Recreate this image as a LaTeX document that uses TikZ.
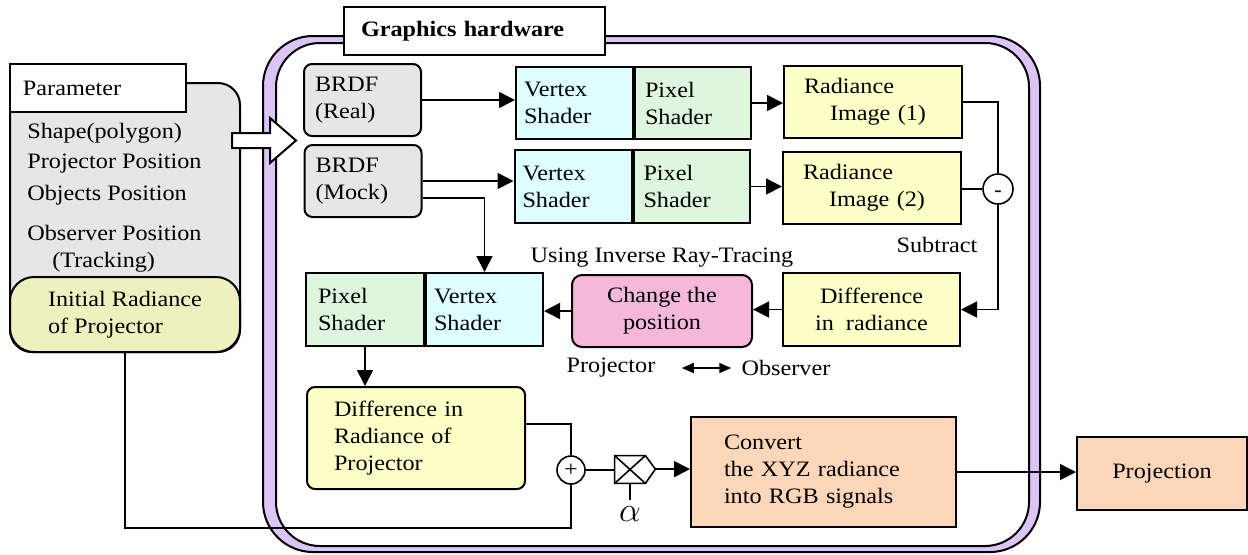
\documentclass[tikz,border=0pt]{standalone}
\usepackage{fontspec}
\setmainfont{Liberation Serif}[FakeStretch=1.1]
\usetikzlibrary{positioning,arrows.meta}

\definecolor{hwpurple}{RGB}{220,196,246}
\definecolor{brdfgray}{RGB}{230,230,230}
\definecolor{vscyan}{RGB}{222,255,255}
\definecolor{psgreen}{RGB}{222,246,222}
\definecolor{radyellow}{RGB}{255,255,200}
\definecolor{inityellow}{RGB}{240,240,190}
\definecolor{chgpink}{RGB}{245,184,218}
\definecolor{convorange}{RGB}{251,214,184}

\begin{document}
\begin{tikzpicture}[x=0.5pt, y=-0.5pt,
  every node/.style={align=center, font=\fontsize{11}{13.5}\selectfont},
  thebox/.style={draw, line width=1pt, inner sep=0pt},
  roundbox/.style={thebox, rounded corners=4pt},
  lefttext/.style 2 args={text width=#1, inner xsep=#2, align=left},
  junction/.style={draw, circle, line width=0.8pt, inner sep=0pt},
  label/.style={inner sep=0pt},
  wire/.style={line width=0.8pt},
  arr/.style={wire, -{Triangle[length=8pt,width=8pt]}},
  dblarr/.style={wire, {Triangle[length=6pt,width=5pt]}-{Triangle[length=6pt,width=5pt]}}]

\useasboundingbox (0,0) rectangle (1248,554);

% parameter block
\node (param) [thebox, rounded corners=11pt, fill=brdfgray, minimum width=115pt, minimum height=134.5pt] at (125,217.5) {};
\node (paramtitle) [thebox, fill=white, lefttext={75pt}{6.5pt}, minimum height=24pt] at (98,88) {Parameter};
\node (shape) [label, anchor=west] at (27,133) {Shape(polygon)};
\node (projpos) [label, anchor=west] at (27,164) {Projector Position};
\node (objpos) [label, anchor=west] at (27,195) {Objects Position};
\node (obspos) [label, anchor=west] at (27,233) {Observer Position};
\node (tracking) [label, anchor=west] at (52,262) {(Tracking)};
\node (initrad) [thebox, rounded corners=12pt, fill=inityellow, align=left, minimum width=115pt, minimum height=37.5pt] at (125,314.5) {Initial Radiance\\of Projector};

% graphics hardware frame
\draw[line width=1pt, fill=hwpurple, rounded corners=25pt] (263,36) rectangle (1040,552);
\draw[line width=1pt, fill=white, rounded corners=22pt] (276,43) rectangle (1029,546);
\node (hwtitle) [thebox, fill=white, lefttext={113.5pt}{8.5pt}, minimum height=24pt] at (474.5,31) {\textbf{Graphics hardware}};

% first and second pass
\node (brdfreal) [roundbox, fill=brdfgray, lefttext={47.5pt}{5.5pt}, minimum height=36pt] at (362.5,100) {BRDF\\(Real)};
\node (brdfmock) [roundbox, fill=brdfgray, lefttext={47.5pt}{5.5pt}, minimum height=36pt] at (363,181) {BRDF\\(Mock)};
\node (vs1) [thebox, fill=vscyan, lefttext={50.5pt}{4pt}, minimum height=36pt] at (574.5,103) {Vertex\\Shader};
\node (ps1) [thebox, fill=psgreen, lefttext={48pt}{5pt}, minimum height=36pt, right=0pt of vs1] {Pixel\\Shader};
\node (vs2) [thebox, fill=vscyan, lefttext={50.5pt}{4pt}, minimum height=36.5pt] at (573,186.5) {Vertex\\Shader};
\node (ps2) [thebox, fill=psgreen, lefttext={48pt}{5pt}, minimum height=36.5pt, right=0pt of vs2] {Pixel\\Shader};
\node (rad1) [thebox, fill=radyellow, lefttext={69pt}{10pt}, minimum height=36pt] at (873,102) {Radiance\\\hspace*{13pt}Image (1)};
\node (rad2) [thebox, fill=radyellow, lefttext={69pt}{10pt}, minimum height=36pt] at (872,187.5) {Radiance\\\hspace*{13pt}Image (2)};
\node (sub) [junction, minimum size=15pt, fill=white] at (998,189) {};
\node (minus) [label, font=\bfseries] at (998,194) {-};
\node (subtract) [label] at (937,245) {Subtract};

% inverse pass
\node (diffrad) [thebox, fill=radyellow, minimum width=88.5pt, minimum height=36.5pt] at (871.5,309.5) {Difference\\in~ radiance};
\node (change) [roundbox, rounded corners=5pt, fill=chgpink, minimum width=90pt, minimum height=36pt] at (662,311) {Change the\\position};
\node (inverse) [label] at (662,258) {Using Inverse Ray-Tracing};
\node (ps3) [thebox, fill=psgreen, lefttext={47pt}{6pt}, minimum height=36.5pt] at (365,309.5) {Pixel\\Shader};
\node (vs3) [thebox, fill=vscyan, lefttext={50.5pt}{4pt}, minimum height=36.5pt, right=0pt of ps3] {Vertex\\Shader};
\node (projlbl) [label] at (611,368) {Projector};
\node (obslbl) [label] at (786,368) {Observer};

% output
\node (diffproj) [roundbox, fill=radyellow, lefttext={82pt}{13.5pt}, minimum height=51pt] at (416,438) {Difference in\\Radiance of\\Projector};
\node (plus) [junction, minimum size=14pt, fill=white] at (571,470) {+};
\node (mult) [inner sep=0pt, minimum width=15pt, minimum height=13.5pt] at (630,469.5) {};
\node (alpha) [anchor=north, inner sep=3pt] at (630,500) {\LARGE$\alpha$};
\node (convert) [thebox, fill=convorange, lefttext={99.5pt}{16.5pt}, minimum height=55pt] at (823.5,472) {Convert\\the XYZ radiance\\into RGB signals};
\node (proj) [thebox, fill=convorange, minimum width=85pt, minimum height=36.5pt] at (1162,473.5) {Projection};
\coordinate (loop) at (571,528);

\draw[wire, fill=white] (mult.north west) -- (mult.north east) -- ++(10,13.5) coordinate (multtip) -- (mult.south east) -- (mult.south west) -- cycle;
\draw[wire] (mult.north west) -- (mult.south east) (mult.south west) -- (mult.north east);

% connections
\draw[arr] (brdfreal.east) -- (brdfreal.east -| vs1.west);
\draw[arr] (brdfmock.east) -- (brdfmock.east -| vs2.west);
\draw[arr] ([yshift=-8.5pt]brdfmock.east) -| (vs3.north);
\draw[arr] (ps1.east) -- (ps1.east -| rad1.west);
\draw[arr] (ps2.east) -- (ps2.east -| rad2.west);
\draw[wire] (rad1.east) -| (sub.north);
\draw[wire] (sub.west) -- (sub.west -| rad2.east);
\draw[arr] (sub.south) |- (diffrad.east);
\draw[arr] (diffrad.west) -- (diffrad.west -| change.east);
\draw[arr] (change.west) -- (change.west -| vs3.east);
\draw[dblarr] ([xshift=13pt]projlbl.east) -- ([xshift=-5pt]obslbl.west);
\draw[arr] (ps3.south) -- (ps3.south |- diffproj.north);
\draw[wire] ([yshift=7pt]diffproj.east) -| (plus.north);
\draw[wire] (initrad.south) |- (loop) -- (plus.south);
\draw[wire] (plus.east) -- (plus.east -| mult.west);
\draw[wire] (mult.south) -- (alpha.north);
\draw[arr] (multtip) -- (multtip -| convert.west);
\draw[arr] (convert.east) -- (convert.east -| proj.west);

% input arrow
\draw[line width=1pt, fill=white] (232,133) -- (270,133) -- (270,118) -- (296,140.5) -- (270,163) -- (270,148) -- (232,148) -- cycle;
\end{tikzpicture}
\end{document}
